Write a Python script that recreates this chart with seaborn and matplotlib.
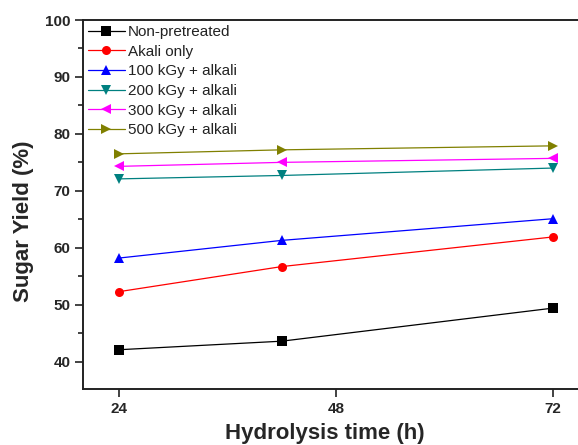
import pandas as pd
import seaborn as sns
import matplotlib.pyplot as plt
from matplotlib.ticker import MultipleLocator

# hydrolysis time (h) and sugar yield (%) per pretreatment
hours = [24, 42, 72]
non_pretreated = [42.1, 43.6, 49.4]
alkali_only = [52.3, 56.7, 61.9]
gy100_alkali = [58.2, 61.3, 65.1]
gy200_alkali = [72.1, 72.7, 74.0]
gy300_alkali = [74.3, 75.0, 75.7]
gy500_alkali = [76.5, 77.2, 77.9]

series_names = ['Non-pretreated', 'Akali only', '100 kGy + alkali',
                '200 kGy + alkali', '300 kGy + alkali', '500 kGy + alkali']
series_values = [non_pretreated, alkali_only, gy100_alkali,
                 gy200_alkali, gy300_alkali, gy500_alkali]
colors = ['#000000', '#ff0000', '#0000ff', '#008080', '#ff00ff', '#808000']
marker_list = ['s', 'o', '^', 'v', '<', '>']

# long form table for seaborn
rows = []
for name, vals in zip(series_names, series_values):
    for h, v in zip(hours, vals):
        rows.append({'time': h, 'yield': v, 'series': name})
df = pd.DataFrame(rows)

sns.set_style('ticks')
plt.rcParams['font.family'] = ['Liberation Sans', 'DejaVu Sans']

W, H = 578, 445
fig = plt.figure(figsize=(W / 100, H / 100), dpi=100)
ax = fig.add_axes([83 / W, 1 - 389.3 / H, (W - 83) / W, (389.3 - 20) / H])

sns.lineplot(data=df, x='time', y='yield', hue='series', style='series',
             hue_order=series_names, style_order=series_names,
             palette=colors, markers=dict(zip(series_names, marker_list)),
             dashes=False, linewidth=0.9, markersize=6.5, markeredgewidth=0,
             ax=ax)

ax.set_xlim(20, 74.8)
ax.set_ylim(35.15, 100)
ax.set_xticks([24, 48, 72])
ax.yaxis.set_major_locator(MultipleLocator(10))
ax.yaxis.set_minor_locator(MultipleLocator(5))
ax.set_yticks(range(40, 101, 10))

for s in ['left', 'bottom', 'top']:
    ax.spines[s].set_linewidth(1.4)
    ax.spines[s].set_color('#222222')
ax.spines['right'].set_visible(False)

ax.tick_params(axis='both', which='major', direction='out', length=6,
               width=1.2, labelsize=11, pad=3, color='#222222')
ax.tick_params(axis='y', which='minor', direction='out', length=3.5, width=1.2,
               color='#222222')
for lbl in ax.get_xticklabels() + ax.get_yticklabels():
    lbl.set_fontweight('bold')

ax.set_xlabel('Hydrolysis time (h)', fontsize=16, fontweight='bold')
ax.set_ylabel('Sugar Yield (%)', fontsize=16, fontweight='bold')
ax.xaxis.set_label_coords(0.489, -0.09)
ax.yaxis.set_label_coords(-0.099, 0.456)

h, l = ax.get_legend_handles_labels()
leg = ax.legend(h, l, loc='upper left', bbox_to_anchor=(88 / W, 1 - 25 / H),
                bbox_transform=fig.transFigure, frameon=False, fontsize=11,
                borderpad=0, borderaxespad=0, handlelength=2.4,
                handletextpad=0.2, labelspacing=0.37)
for t in leg.get_texts():
    t.set_color('#222222')

fig.savefig('out.png', dpi=100)
